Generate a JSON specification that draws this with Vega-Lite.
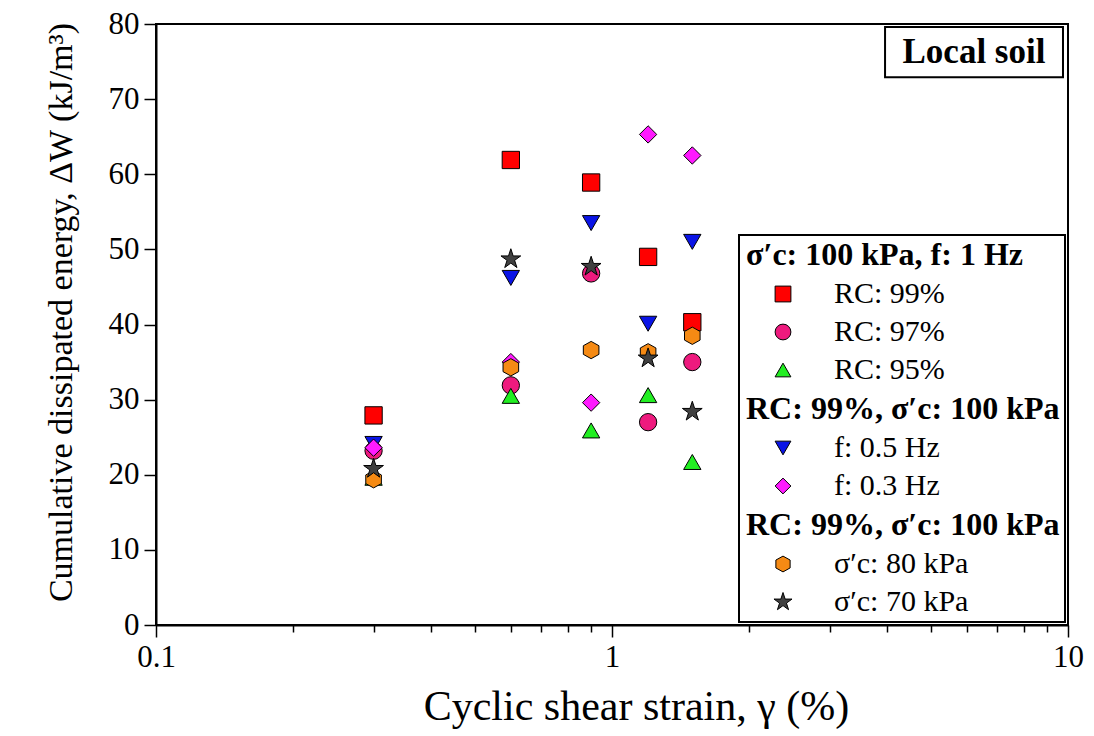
{
  "$schema": "https://vega.github.io/schema/vega-lite/v6.json",
  "width": 912,
  "height": 601,
  "autosize": "none",
  "padding": {"left": 156, "top": 24, "right": 26, "bottom": 111},
  "background": "white",
  "config": {
    "view": {"stroke": "black", "strokeWidth": 2},
    "font": "Liberation Serif",
    "legend": {"strokeWidth": 2},
    "axis": {"domainColor": "black", "domainWidth": 2, "tickColor": "black", "tickWidth": 1.5, "labelColor": "black", "titleColor": "black", "labelFont": "Liberation Serif", "titleFont": "Liberation Serif", "titleFontWeight": "normal", "grid": false}
  },
  "datasets": {
    "pts": [
      {"strain": 0.3, "energy": 27.9, "series": "RC: 99%"},
      {"strain": 0.6, "energy": 61.9, "series": "RC: 99%"},
      {"strain": 0.9, "energy": 58.9, "series": "RC: 99%"},
      {"strain": 1.2, "energy": 49.0, "series": "RC: 99%"},
      {"strain": 1.5, "energy": 40.3, "series": "RC: 99%"},
      {"strain": 0.3, "energy": 23.2, "series": "RC: 97%"},
      {"strain": 0.6, "energy": 31.9, "series": "RC: 97%"},
      {"strain": 0.9, "energy": 46.8, "series": "RC: 97%"},
      {"strain": 1.2, "energy": 27.0, "series": "RC: 97%"},
      {"strain": 1.5, "energy": 35.0, "series": "RC: 97%"},
      {"strain": 0.3, "energy": 19.6, "series": "RC: 95%"},
      {"strain": 0.6, "energy": 30.5, "series": "RC: 95%"},
      {"strain": 0.9, "energy": 25.9, "series": "RC: 95%"},
      {"strain": 1.2, "energy": 30.6, "series": "RC: 95%"},
      {"strain": 1.5, "energy": 21.7, "series": "RC: 95%"},
      {"strain": 0.3, "energy": 24.1, "series": "f: 0.5 Hz"},
      {"strain": 0.6, "energy": 46.2, "series": "f: 0.5 Hz"},
      {"strain": 0.9, "energy": 53.5, "series": "f: 0.5 Hz"},
      {"strain": 1.2, "energy": 40.1, "series": "f: 0.5 Hz"},
      {"strain": 1.5, "energy": 51.0, "series": "f: 0.5 Hz"},
      {"strain": 0.3, "energy": 23.6, "series": "f: 0.3 Hz"},
      {"strain": 0.6, "energy": 35.0, "series": "f: 0.3 Hz"},
      {"strain": 0.9, "energy": 29.6, "series": "f: 0.3 Hz"},
      {"strain": 1.2, "energy": 65.3, "series": "f: 0.3 Hz"},
      {"strain": 1.5, "energy": 62.5, "series": "f: 0.3 Hz"},
      {"strain": 0.3, "energy": 19.4, "series": "σ′c: 80 kPa"},
      {"strain": 0.6, "energy": 34.3, "series": "σ′c: 80 kPa"},
      {"strain": 0.9, "energy": 36.6, "series": "σ′c: 80 kPa"},
      {"strain": 1.2, "energy": 36.3, "series": "σ′c: 80 kPa"},
      {"strain": 1.5, "energy": 38.5, "series": "σ′c: 80 kPa"},
      {"strain": 0.3, "energy": 20.8, "series": "σ′c: 70 kPa"},
      {"strain": 0.6, "energy": 48.7, "series": "σ′c: 70 kPa"},
      {"strain": 0.9, "energy": 47.7, "series": "σ′c: 70 kPa"},
      {"strain": 1.2, "energy": 35.5, "series": "σ′c: 70 kPa"},
      {"strain": 1.5, "energy": 28.4, "series": "σ′c: 70 kPa"}
    ],
    "one": [{"label": "Local soil"}]
  },
  "layer": [
    {
      "data": {"name": "pts"},
      "mark": {"type": "point", "filled": true, "opacity": 1, "stroke": "black", "strokeWidth": 1, "size": 300},
      "encoding": {
        "x": {
          "field": "strain", "type": "quantitative",
          "scale": {"type": "log", "domain": [0.1, 10], "nice": false},
          "axis": {
            "title": "Cyclic shear strain, γ (%)",
            "titleFontSize": 42, "titlePadding": 14, "titleX": 480,
            "labelFontSize": 31, "labelPadding": 5,
            "values": [0.1, 0.2, 0.3, 0.4, 0.5, 0.6, 0.7, 0.8, 0.9, 1, 2, 3, 4, 5, 6, 7, 8, 9, 10],
            "labelExpr": "datum.value == 0.1 ? '0.1' : datum.value == 1 ? '1' : datum.value == 10 ? '10' : ''",
            "tickSize": {"condition": {"test": "datum.value == 0.1 || datum.value == 1 || datum.value == 10", "value": 12}, "value": 7},
            "labelFlush": false, "labelOverlap": false
          }
        },
        "y": {
          "field": "energy", "type": "quantitative",
          "scale": {"domain": [0, 80], "nice": false},
          "axis": {
            "title": "Cumulative dissipated energy, ΔW (kJ/m³)",
            "titleFontSize": 34, "titlePadding": 30, "titleY": 288,
            "labelFontSize": 31, "labelPadding": 5,
            "values": [0, 5, 10, 15, 20, 25, 30, 35, 40, 45, 50, 55, 60, 65, 70, 75, 80],
            "labelExpr": "datum.value % 10 == 0 ? datum.label : ''",
            "tickSize": {"condition": {"test": "datum.value % 10 == 0", "value": 12}, "value": 7},
            "labelOverlap": false
          }
        },
        "color": {
          "field": "series", "type": "nominal",
          "scale": {
            "domain": ["σ′c: 100 kPa, f: 1 Hz", "RC: 99%", "RC: 97%", "RC: 95%", "RC: 99%, σ′c: 100 kPa", "f: 0.5 Hz", "f: 0.3 Hz", "RC: 99%, σ′c: 100 kPa ", "σ′c: 80 kPa", "σ′c: 70 kPa"],
            "range": ["transparent", "#FF0000", "#EE1A7E", "#22EE22", "transparent", "#0A14E6", "#FF1AFF", "transparent", "#F58A14", "#404040"]
          },
          "legend": {
            "title": null,
            "orient": "bottom-right",
            "offset": 3,
            "padding": 5,
            "strokeColor": "black",
            "fillColor": "white",
            "labelFont": "Liberation Serif",
            "labelFontSize": {"expr": "indexof(['σ′c: 100 kPa, f: 1 Hz','RC: 99%, σ′c: 100 kPa','RC: 99%, σ′c: 100 kPa '], datum.label) >= 0 ? 32 : 30"},
            "labelFontWeight": {"expr": "indexof(['σ′c: 100 kPa, f: 1 Hz','RC: 99%, σ′c: 100 kPa','RC: 99%, σ′c: 100 kPa '], datum.label) >= 0 ? 'bold' : 'normal'"},
            "labelOffset": {"expr": "indexof(['σ′c: 100 kPa, f: 1 Hz','RC: 99%, σ′c: 100 kPa','RC: 99%, σ′c: 100 kPa '], datum.label) >= 0 ? -52 : 36"},
            "labelColor": "black",
            "labelLimit": 500,
            "rowPadding": 8,
            "symbolSize": 250,
            "symbolOffset": 24,
            "symbolStrokeColor": "black",
            "symbolStrokeWidth": 1
          }
        },
        "shape": {
          "field": "series", "type": "nominal",
          "scale": {
            "domain": ["σ′c: 100 kPa, f: 1 Hz", "RC: 99%", "RC: 97%", "RC: 95%", "RC: 99%, σ′c: 100 kPa", "f: 0.5 Hz", "f: 0.3 Hz", "RC: 99%, σ′c: 100 kPa ", "σ′c: 80 kPa", "σ′c: 70 kPa"],
            "range": ["M0,0", "square", "circle", "triangle-up", "M0,0", "triangle-down", "diamond", "M0,0", "M0,-1L0.9,-0.5L0.9,0.5L0,1L-0.9,0.5L-0.9,-0.5Z", "M0,-1.2L0.269,-0.371L1.141,-0.371L0.436,0.142L0.705,0.971L0,0.458L-0.705,0.971L-0.436,0.142L-1.141,-0.371L-0.269,-0.371Z"]
          },
          "legend": {"title": null}
        }
      }
    },
    {
      "data": {"name": "one"},
      "mark": {"type": "rect", "fill": "white", "stroke": "black", "strokeWidth": 2},
      "encoding": {
        "x": {"datum": 3.97},
        "x2": {"datum": 9.75},
        "y": {"datum": 79.6},
        "y2": {"datum": 72.9}
      }
    },
    {
      "data": {"name": "one"},
      "mark": {"type": "text", "font": "Liberation Serif", "fontWeight": "bold", "fontSize": 35, "color": "black", "align": "center", "baseline": "middle"},
      "encoding": {
        "text": {"field": "label", "type": "nominal"},
        "x": {"datum": 6.22},
        "y": {"datum": 76.3}
      }
    }
  ]
}
